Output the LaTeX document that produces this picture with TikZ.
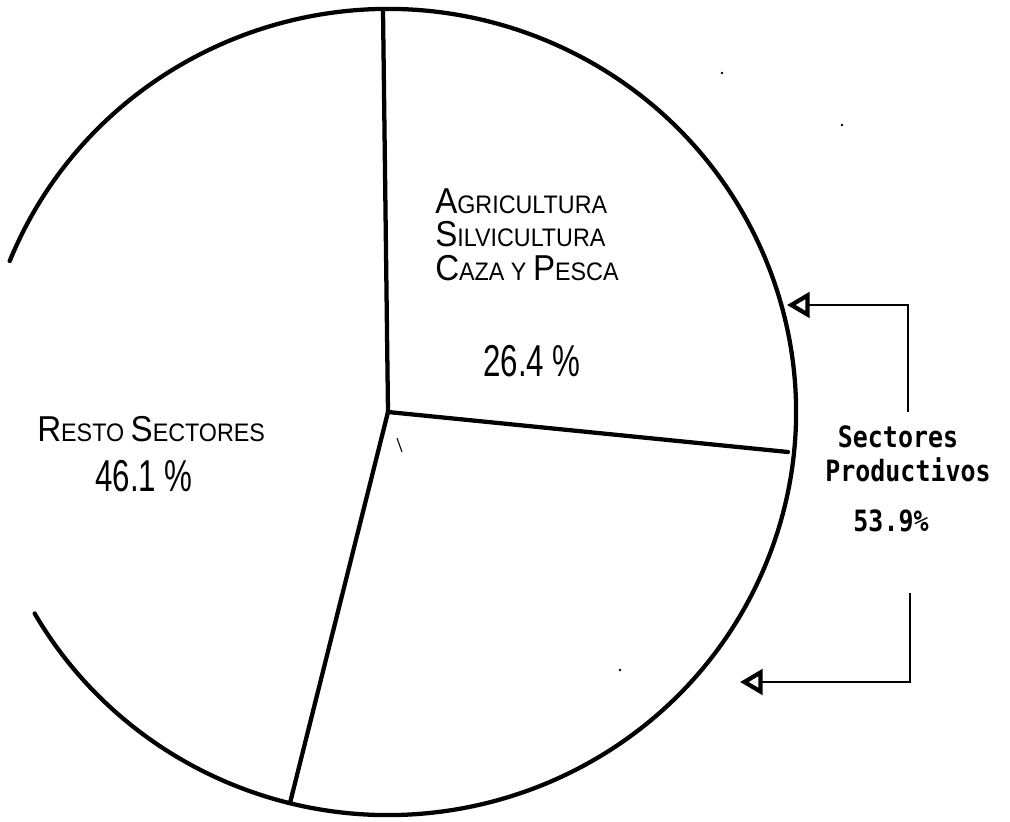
\documentclass[tikz,border=0pt]{standalone}
\usepackage{fontspec}
\usetikzlibrary{arrows.meta}
\newfontfamily\letterfont[FakeStretch=0.92]{Liberation Sans}
\newfontfamily\numfont[FakeStretch=0.7]{Liberation Sans}
\newfontfamily\typefont[FakeStretch=0.85]{DejaVu Sans Mono}
\newcommand{\capl}[1]{{\fontsize{27}{30}\selectfont #1}}
\newcommand{\smcl}[1]{{\fontsize{19}{22}\selectfont #1}}
\begin{document}
\begin{tikzpicture}[x=0.75pt,y=0.75pt,
  pieline/.style={line width=3.2pt,line cap=round},
  feed/.style={line width=1.6pt,-{Triangle[open,length=17pt,width=19pt,line width=3.2pt]}},
  lettering/.style={anchor=base west,inner sep=0pt,font=\letterfont},
  pct/.style={anchor=base west,inner sep=0pt,font=\numfont\fontsize{33.5}{36}\selectfont},
  typed/.style={anchor=base,inner sep=0pt,font=\typefont\bfseries\fontsize{22}{25}\selectfont}]
\useasboundingbox (0,0) rectangle (1010,821);

\coordinate (ctr) at (388,409);
\coordinate (rimtop) at (383,811);
\coordinate (rimright) at (788,369);
\coordinate (rimbottom) at (290,18);

% pie
\draw[pieline] ([shift={(158:408 and 403)}]ctr) arc[start angle=158,end angle=-150,x radius=408,y radius=403];
\draw[pieline] (ctr) -- (rimtop);
\draw[pieline] (ctr) -- (rimright);
\draw[pieline] (ctr) -- (rimbottom);
\draw[line width=0.8pt] (397,383) -- (402,369);
\fill (722,748) circle (1.3);
\fill (842,696) circle (1.3);
\fill (620,151) circle (1.3);

\node[lettering] (agri) at (435,607) {\capl{A}\smcl{GRICULTURA}};
\node[lettering] (silvi) at (435,574) {\capl{S}\smcl{ILVICULTURA}};
\node[lettering] (caza) at (435,540) {\capl{C}\smcl{AZA Y }\capl{P}\smcl{ESCA}};
\node[pct] (agripct) at (483,444) {26.4 \%};
\node[lettering] (resto) at (37,379) {\capl{R}\smcl{ESTO }\capl{S}\smcl{ECTORES}};
\node[pct] (restopct) at (95,329) {46.1 \%};

\node[typed] (sect) at (898,373) {Sectores};
\node[typed] (prod) at (908,339) {Productivos};
\node[typed] (prodpct) at (891,289) {53.9\%};

% brackets
\coordinate (upfoot) at (908,409);
\coordinate (uptip) at (787,516);
\coordinate (lowfoot) at (910,228);
\coordinate (lowtip) at (740,139);
\draw[feed] (upfoot) |- (uptip);
\draw[feed] (lowfoot) |- (lowtip);
\end{tikzpicture}
\end{document}
